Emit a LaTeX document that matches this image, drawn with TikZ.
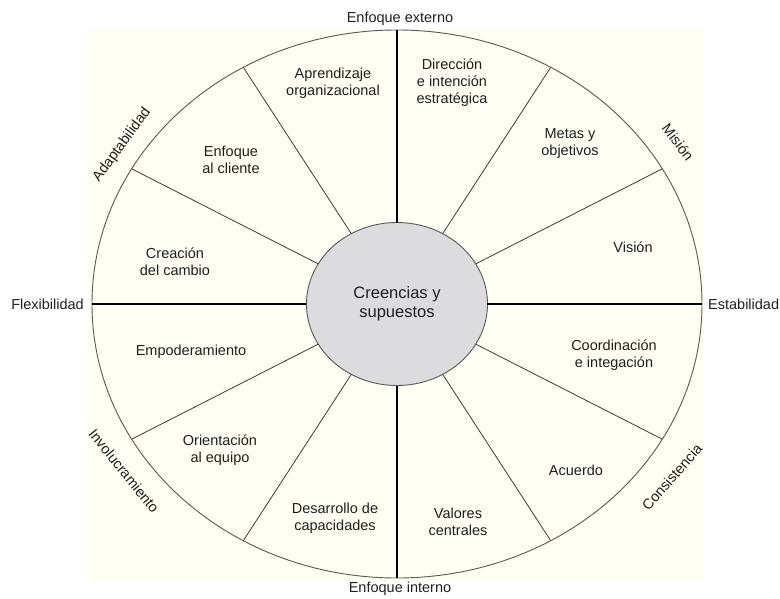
\documentclass[tikz,border=0pt]{standalone}
\usepackage{fontspec}
\setmainfont{Liberation Sans}
\usetikzlibrary{shapes.geometric}
\definecolor{creamback}{HTML}{FEFEF2}
\definecolor{coregray}{HTML}{DCDCDE}
\definecolor{spokegray}{HTML}{3C3C3C}

\begin{document}
\begin{tikzpicture}[x=1pt, y=1pt,
    label text/.style={text=black!88, inner sep=0pt, font=\fontsize{14.5}{17}\selectfont},
    sector/.style={label text, align=center},
    spoke/.style={draw=spokegray, line width=0.8pt},
    axis line/.style={draw=black, line width=1.5pt},
    wheel/.style={ellipse, draw=black!65, line width=0.9pt, inner sep=0pt, outer sep=0pt}]
          \useasboundingbox (-397, -294) rectangle (383, 304);
          \fill [creamback] (-309, -277) rectangle (307, 275);

          % Wheel
          \node [wheel, minimum width=610pt, minimum height=548pt] (rim) at (0, 0) {};
          \node [wheel, fill=coregray, minimum width=181pt, minimum height=163pt,
            align=center, text=black!88, font=\fontsize{16.5}{19}\selectfont]
            (core) at (0, 0) {Creencias y\\supuestos};

          \foreach \a in {0, 90, 180, 270}
            \draw [axis line] (core.\a) -- (rim.\a);
          \foreach \a in {27, 57, 123, 153, 207, 237, 303, 333}
            \draw [spoke] (core.\a) -- (rim.\a);

          % Poles
          \node [label text] (externo) at (3, 285) {Enfoque externo};
          \node [label text] (interno) at (3, -285) {Enfoque interno};
          \node [label text, anchor=east] (flex) at (-313, 0) {Flexibilidad};
          \node [label text, anchor=west] (estab) at (311, 0) {Estabilidad};
          \node [label text, rotate=54] (adapt) at (-275, 159) {Adaptabilidad};
          \node [label text, rotate=-53] (mision) at (281, 162) {Misión};
          \node [label text, rotate=-51] (involu) at (-273, -167) {Involucramiento};
          \node [label text, rotate=49] (consis) at (275, -173) {Consistencia};

          % Sectors
          \node [sector] (aprend) at (-64, 221) {Aprendizaje\\organizacional};
          \node [sector] (cliente) at (-166, 144) {Enfoque\\al cliente};
          \node [sector] (cambio) at (-222, 42) {Creación\\del cambio};
          \node [sector] (direc) at (55, 221) {Dirección\\e intención\\estratégica};
          \node [sector] (metas) at (173, 160) {Metas y\\objetivos};
          \node [sector] (vision) at (236, 57) {Visión};
          \node [sector] (empod) at (-206, -48) {Empoderamiento};
          \node [sector] (equipo) at (-177, -146) {Orientación\\al equipo};
          \node [sector] (capac) at (-62, -214) {Desarrollo de\\capacidades};
          \node [sector] (coord) at (217, -51) {Coordinación\\e integación};
          \node [sector] (acuerdo) at (179, -166) {Acuerdo};
          \node [sector] (valores) at (61, -218) {Valores\\centrales};
        \end{tikzpicture}
\end{document}
